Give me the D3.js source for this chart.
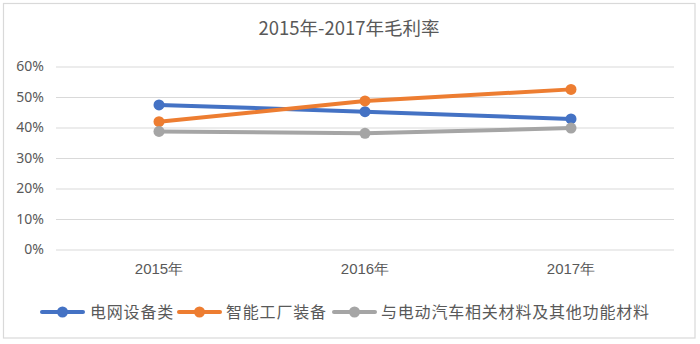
<!DOCTYPE html>
<html>
<head>
<meta charset="utf-8">
<script src="https://cdn.jsdelivr.net/npm/d3@7/dist/d3.min.js"></script>
<style>
  html, body { margin: 0; padding: 0; background: #ffffff; }
  svg { display: block; font-family: "Noto Sans CJK SC", "Noto Sans", sans-serif; }
</style>
</head>
<body>
<svg id="chart" width="700" height="344"></svg>
<script>
const title = "2015年-2017年毛利率";
const categories = ["2015年", "2016年", "2017年"];
const seriesNames = ["电网设备类", "智能工厂装备", "与电动汽车相关材料及其他功能材料"];
const gridValues = [47.4, 45.2, 42.8];
const factoryValues = [41.9, 48.7, 52.5];
const evValues = [38.7, 38.1, 39.8];
const yTicks = [0, 10, 20, 30, 40, 50, 60];
const colors = ["#4472C4", "#ED7D31", "#A5A5A5"];

const series = [
  { name: seriesNames[0], values: gridValues, color: colors[0] },
  { name: seriesNames[1], values: factoryValues, color: colors[1] },
  { name: seriesNames[2], values: evValues, color: colors[2] }
];

const svg = d3.select("#chart");
const W = 700, H = 344;
const margin = { left: 56, right: 26, top: 66.5, bottom: 94 };

// outer frame
svg.append("rect").attr("x", 3.5).attr("y", 3.5).attr("width", 691.5).attr("height", 334.5)
  .attr("fill", "#ffffff").attr("stroke", "#d9d9d9").attr("stroke-width", 1.2);

svg.append("text").attr("x", 349).attr("y", 34.5).attr("text-anchor", "middle")
  .attr("font-size", 18.5).attr("fill", "#595959").text(title);

const x = d3.scaleBand().domain(categories).range([56, 674]);
const y = d3.scaleLinear().domain([0, 60]).range([249.5, 66.5]);

// gridlines
const gAxisY = svg.append("g").attr("transform", "translate(56,0)")
  .call(d3.axisLeft(y).tickValues(yTicks).tickFormat(d => d + "%").tickSize(-(674 - 56)).tickPadding(12));
gAxisY.select(".domain").remove();
gAxisY.selectAll(".tick line").attr("stroke", "#d9d9d9").attr("stroke-width", 1);
gAxisY.selectAll(".tick text").attr("fill", "#595959").attr("font-size", 14)
  .attr("font-family", "\"Noto Sans\", sans-serif");

const gAxisX = svg.append("g").attr("transform", "translate(0,249.5)")
  .call(d3.axisBottom(x).tickSize(0).tickPadding(14));
gAxisX.select(".domain").remove();
gAxisX.selectAll(".tick text").attr("fill", "#595959").attr("font-size", 15);

const line = d3.line()
  .x((d, i) => x(categories[i]) + x.bandwidth() / 2)
  .y(d => y(d));

// draw in order: gray bottom-most? draw blue, orange, gray order as Excel
series.forEach(s => {
  svg.append("path").datum(s.values).attr("d", line)
    .attr("fill", "none").attr("stroke", s.color).attr("stroke-width", 4)
    .attr("stroke-linecap", "round").attr("stroke-linejoin", "round");
  svg.append("g").selectAll("circle").data(s.values).join("circle")
    .attr("cx", (d, i) => x(categories[i]) + x.bandwidth() / 2)
    .attr("cy", d => y(d)).attr("r", 5.5).attr("fill", s.color);
});

// legend
const legendItems = [
  { x: 42, tx: 90 },
  { x: 179, tx: 226 },
  { x: 334, tx: 381 }
];
series.forEach((s, i) => {
  const lx = legendItems[i].x, ly = 312;
  svg.append("line").attr("x1", lx).attr("x2", lx + 41).attr("y1", ly).attr("y2", ly)
    .attr("stroke", s.color).attr("stroke-width", 4).attr("stroke-linecap", "round");
  svg.append("circle").attr("cx", lx + 20.5).attr("cy", ly).attr("r", 5.5).attr("fill", s.color);
  svg.append("text").attr("x", legendItems[i].tx).attr("y", ly + 6).attr("font-size", 16)
    .attr("letter-spacing", 0.8).attr("fill", "#595959").text(s.name);
});
</script>
</body>
</html>
